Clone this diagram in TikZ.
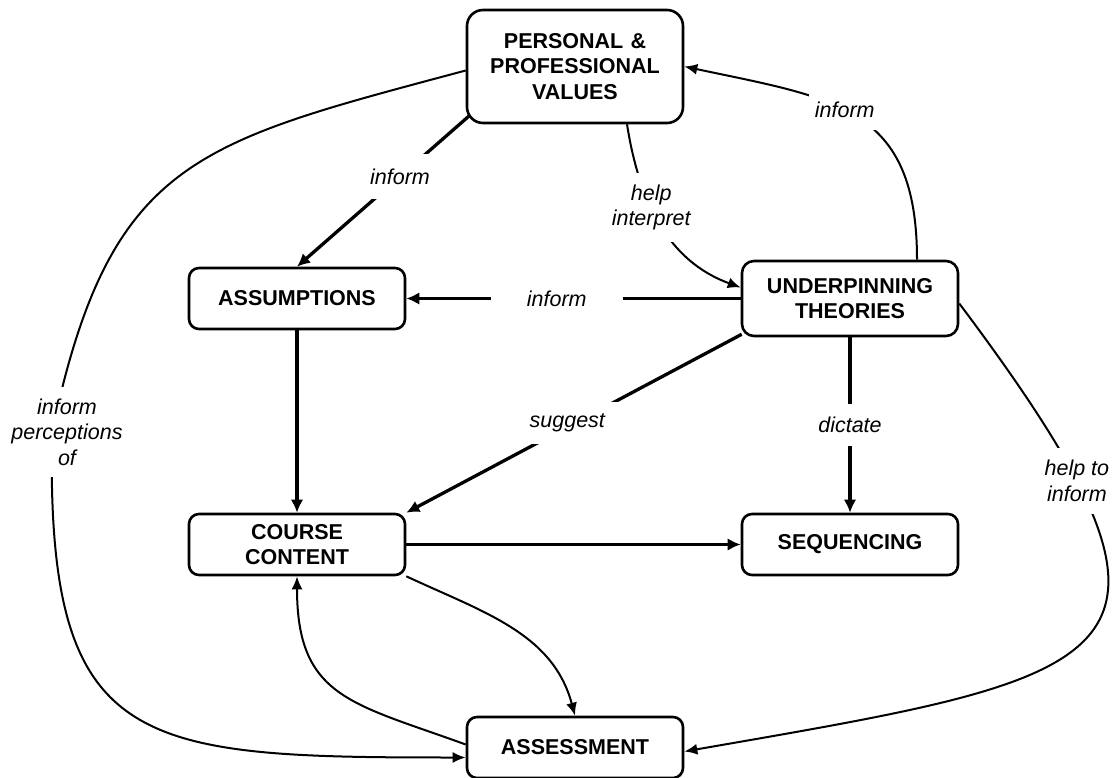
\documentclass[tikz,border=0pt]{standalone}
\usepackage{fontspec}
\setmainfont{Liberation Sans}
\usetikzlibrary{arrows.meta, positioning}

\begin{document}
\begin{tikzpicture}[node distance=246pt]
        \tikzstyle{block} = [rectangle, draw, line width=2.6pt, text width=200pt, inner xsep=8pt, inner ysep=0pt,
            text centered, rounded corners=10pt, minimum height=61pt, font=\bfseries\fontsize{21.5pt}{25.5pt}\selectfont]
        \tikzstyle{line} = [draw, line width=3.3pt, -{Latex[length=13pt, width=12.5pt]}]
        \tikzstyle{curve} = [draw, line width=2pt, -{Latex[length=13pt, width=11pt]}]
        \tikzstyle{lbl} = [fill=white, inner xsep=6pt, inner ysep=12pt, align=center, font=\itshape\fontsize{21.5pt}{25.5pt}\selectfont]

        \useasboundingbox (-297pt,-479.5pt) rectangle (821pt,298.5pt);

        \node [block] (assumptions) {ASSUMPTIONS};
        \node [block, right of=assumptions, node distance=553pt, minimum height=75pt, rounded corners=12pt] (theories) {UNDERPINNING\\THEORIES};
        \node [block, below of=assumptions] (coursecontent) {COURSE\\CONTENT};
        \node [block, below of=theories] (sequencing) {SEQUENCING};
        \node [block, above of=assumptions, node distance=232pt, xshift=278pt, minimum height=113pt, rounded corners=16pt] (values) {PERSONAL \&\\PROFESSIONAL\\VALUES};
        \node [block, below of=coursecontent, node distance=203pt, xshift=278pt] (assessment) {ASSESSMENT};
        \coordinate (percbend) at ([xshift=-245pt,yshift=112.5pt]coursecontent.center);

        \path [line] ([xshift=3pt,yshift=8pt]values.south west) -- node [lbl, pos=0.4, inner ysep=15pt] {inform} (assumptions.north);
        \path [curve] ([xshift=52pt]values.south) to[out=-81, in=160] node [lbl, pos=0.4] {help\\interpret} ([yshift=11pt]theories.west);
        \path [curve] ([xshift=67pt]theories.north) to[out=90, in=-12, looseness=1.3] node [lbl, pos=0.55] {inform} (values.east);
        \path [line] (theories.west) -- node [lbl, pos=0.55, inner xsep=36pt] {inform} (assumptions.east);
        \path [line] ([xshift=1pt,yshift=3pt]theories.south west) -- node [lbl, pos=0.52, inner xsep=14pt, yshift=4pt] {suggest} (coursecontent.north east);
        \path [line] (theories) -- node [lbl, inner ysep=13pt] {dictate} (sequencing);
        \path [curve] ([yshift=-5pt]theories.east) .. controls +(270pt,-360pt) and +(443pt,77pt) .. node [lbl, pos=0.2] {help to\\inform} ([yshift=-4pt]assessment.east);
        \path [line] (assumptions) -- (coursecontent);
        \path [line] (coursecontent) -- (sequencing);
        \path [curve] (coursecontent.south east) to[out=-25, in=105] (assessment.north);
        \path [curve] ([yshift=3pt]assessment.west) to[out=160, in=-90, looseness=1.3] (coursecontent.south);
        \path [curve] ([yshift=-4pt]values.west) to[out=195, in=78, looseness=1.3] (percbend) node [lbl, xshift=15pt] {inform\\perceptions\\of}
            .. controls +(-6pt,-318pt) and +(-332pt,0pt) .. ([yshift=-10pt]assessment.west);
    \end{tikzpicture}
\end{document}
